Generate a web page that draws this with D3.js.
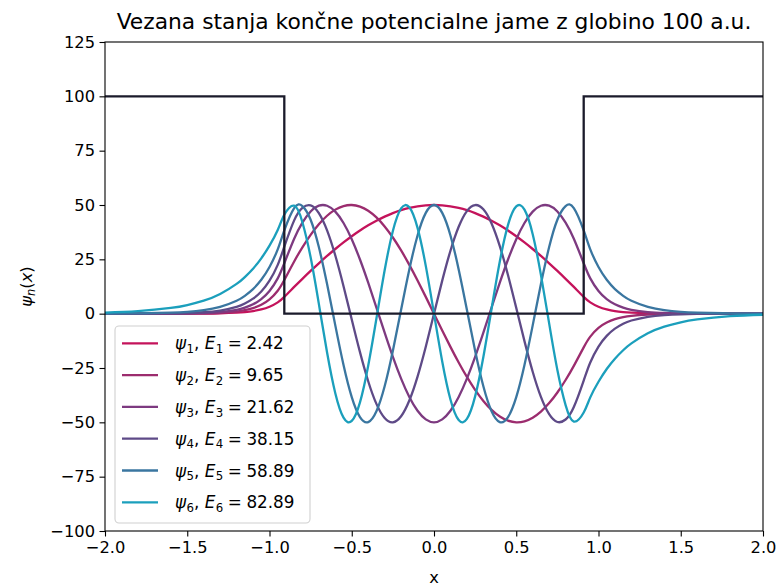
<!DOCTYPE html>
<html>
<head>
<meta charset="utf-8">
<script src="https://cdn.jsdelivr.net/npm/d3@7"></script>
<style>
  body { margin: 0; background: #fff; }
  svg { display: block; font-family: "DejaVu Sans", sans-serif; }
</style>
</head>
<body>
<svg id="chart" width="780" height="587"></svg>
<script>
// Sample positions (a.u.)
const xs = [-2.0, -1.8, -1.6, -1.5, -1.4, -1.3, -1.2, -1.15, -1.1, -1.05, -1.0, -0.95, -0.91,
  -0.85, -0.8, -0.75, -0.7, -0.65, -0.6, -0.55, -0.5, -0.45, -0.4, -0.35, -0.3, -0.25, -0.2, -0.15, -0.1, -0.05,
  0,
  0.05, 0.1, 0.15, 0.2, 0.25, 0.3, 0.35, 0.4, 0.45, 0.5, 0.55, 0.6, 0.65, 0.7, 0.75, 0.8, 0.85,
  0.91, 0.95, 1.0, 1.05, 1.1, 1.15, 1.2, 1.3, 1.4, 1.5, 1.6, 1.8, 2.0];

// Bound-state wavefunctions, scaled to amplitude 50
const psi1 = [0, 0, 0.01, 0.02, 0.06, 0.16, 0.44, 0.72, 1.18, 1.94, 3.18, 5.21, 7.75,
  12.30, 16.03, 19.66, 23.17, 26.55, 29.76, 32.79, 35.62, 38.24, 40.64, 42.77, 44.65, 46.27, 47.60, 48.64, 49.40, 49.85,
  50,
  49.85, 49.40, 48.64, 47.60, 46.27, 44.65, 42.77, 40.64, 38.24, 35.62, 32.79, 29.76, 26.55, 23.17, 19.66, 16.03, 12.30,
  7.75, 5.21, 3.18, 1.94, 1.18, 0.72, 0.44, 0.16, 0.06, 0.02, 0.01, 0, 0];

const psi2 = [0, 0, 0.02, 0.06, 0.15, 0.38, 0.98, 1.58, 2.54, 4.09, 6.57, 10.57, 15.5,
  24.02, 30.52, 36.28, 41.16, 45.06, 47.87, 49.53, 49.99, 49.25, 47.33, 44.27, 40.14, 35.04, 29.10, 22.46, 15.28, 7.73,
  0,
  -7.73, -15.28, -22.46, -29.10, -35.04, -40.14, -44.27, -47.33, -49.25, -49.99, -49.53, -47.87, -45.06, -41.16, -36.28, -30.52, -24.02,
  -15.5, -10.57, -6.57, -4.09, -2.54, -1.58, -0.98, -0.38, -0.15, -0.06, -0.02, 0, 0];

const psi3 = [0, 0.01, 0.05, 0.12, 0.30, 0.73, 1.78, 2.77, 4.30, 6.70, 10.43, 16.24, 23.2,
  34.45, 41.87, 47.04, 49.68, 49.64, 46.94, 41.71, 34.23, 24.91, 14.25, 2.83, -8.75, -19.86, -29.89, -38.32, -44.69, -48.65,
  -50,
  -48.65, -44.69, -38.32, -29.89, -19.86, -8.75, 2.83, 14.25, 24.91, 34.23, 41.71, 46.94, 49.64, 49.68, 47.04, 41.87, 34.45,
  23.2, 16.24, 10.43, 6.70, 4.30, 2.77, 1.78, 0.73, 0.30, 0.12, 0.05, 0.01, 0];

const psi4 = [0.01, 0.03, 0.14, 0.30, 0.65, 1.43, 3.14, 4.66, 6.90, 10.23, 15.16, 22.46, 30.8,
  42.94, 48.70, 49.84, 46.27, 38.32, 26.74, 12.64, -2.66, -17.71, -31.09, -41.52, -48.02, -49.98, -47.21, -39.98, -28.96, -15.20,
  0,
  15.20, 28.96, 39.98, 47.21, 49.98, 48.02, 41.52, 31.09, 17.71, 2.66, -12.64, -26.74, -38.32, -46.27, -49.84, -48.70, -42.94,
  -30.8, -22.46, -15.16, -10.23, -6.90, -4.66, -3.14, -1.43, -0.65, -0.30, -0.14, -0.03, -0.01];

const psi5 = [0.04, 0.13, 0.46, 0.87, 1.65, 3.14, 5.96, 8.21, 11.31, 15.58, 21.47, 29.59, 38.3,
  48.57, 49.48, 43.20, 30.63, 13.61, -5.39, -23.61, -38.39, -47.59, -49.87, -44.90, -33.40, -17.04, 1.80, 20.37, 35.99, 46.36,
  50,
  46.36, 35.99, 20.37, 1.80, -17.04, -33.40, -44.90, -49.87, -47.59, -38.39, -23.61, -5.39, 13.61, 30.63, 43.20, 49.48, 48.57,
  38.3, 29.59, 21.47, 15.58, 11.31, 8.21, 5.96, 3.14, 1.65, 0.87, 0.46, 0.13, 0.04];

const psi6 = [0.50, 1.14, 2.62, 3.96, 5.98, 9.05, 13.69, 16.83, 20.70, 25.46, 31.31, 38.50, 45.5,
  49.67, 42.08, 25.93, 4.49, -17.86, -36.58, -47.84, -49.36, -40.83, -23.98, -2.25, 19.94, 38.07, 48.44, 48.95, 39.49, 21.98,
  0,
  -21.98, -39.49, -48.95, -48.44, -38.07, -19.94, 2.25, 23.98, 40.83, 49.36, 47.84, 36.58, 17.86, -4.49, -25.93, -42.08, -49.67,
  -45.5, -38.50, -31.31, -25.46, -20.70, -16.83, -13.69, -9.05, -5.98, -3.96, -2.62, -1.14, -0.50];

// Energies of the bound states
const energies = [2.42, 9.65, 21.62, 38.15, 58.89, 82.89];

// Potential well, depth 100
const wellX = [-2, -0.91, -0.91, 0.91, 0.91, 2];
const wellV = [100, 100, 0, 0, 100, 100];

const xTicks = [-2.0, -1.5, -1.0, -0.5, 0.0, 0.5, 1.0, 1.5, 2.0];
const yTicks = [-100, -75, -50, -25, 0, 25, 50, 75, 100, 125];

const colors = ["#c4135b", "#9c2c6e", "#7d3a80", "#5e4a87", "#3a76a0", "#1b9fbc"];
const wellColor = "#1b1b2b";

const series = [psi1, psi2, psi3, psi4, psi5, psi6];

const svg = d3.select("#chart");
const W = 780, H = 587;
const m = { left: 105, right: 763, top: 42, bottom: 531 };
const fs = 16.3;
const lfs = 16.8;

const x = d3.scaleLinear().domain([-2, 2]).range([m.left, m.right]);
const y = d3.scaleLinear().domain([-100, 125]).range([m.bottom, m.top]);

svg.append("rect").attr("width", W).attr("height", H).attr("fill", "#fff");

svg.append("defs").append("clipPath").attr("id", "plot-clip")
  .append("rect").attr("x", m.left).attr("y", m.top)
  .attr("width", m.right - m.left).attr("height", m.bottom - m.top);

const fmtMinus = s => s.replace("-", "\u2212");

// Axes
const xAxis = d3.axisBottom(x).tickValues(xTicks).tickSize(5.5).tickPadding(4.5)
  .tickFormat(d => fmtMinus(d3.format(".1f")(d)));
const yAxis = d3.axisLeft(y).tickValues(yTicks).tickSize(5.5).tickPadding(4.5)
  .tickFormat(d => fmtMinus(d3.format("d")(d)));

const gx = svg.append("g").attr("transform", `translate(0,${m.bottom})`).call(xAxis);
const gy = svg.append("g").attr("transform", `translate(${m.left},0)`).call(yAxis);
[gx, gy].forEach(g => {
  g.select(".domain").remove();
  g.selectAll(".tick line").attr("stroke", "#000").attr("stroke-width", 1.1);
  g.selectAll(".tick text").attr("fill", "#000").attr("font-size", fs)
    .attr("font-family", "DejaVu Sans");
});

// Curves
const line = d3.line()
  .x((d, i) => x(xs[i]))
  .y(d => y(d))
  .curve(d3.curveNatural);

const plot = svg.append("g").attr("clip-path", "url(#plot-clip)");
series.forEach((s, i) => {
  plot.append("path").datum(s)
    .attr("d", line)
    .attr("fill", "none")
    .attr("stroke", colors[i])
    .attr("stroke-width", 2.3)
    .attr("stroke-linejoin", "round");
});

// Potential
const wellLine = d3.line().x((d, i) => x(wellX[i])).y(d => y(d));
plot.append("path").datum(wellV)
  .attr("d", wellLine)
  .attr("fill", "none")
  .attr("stroke", wellColor)
  .attr("stroke-width", 2.3)
  .attr("stroke-linejoin", "miter");

// Frame
svg.append("rect").attr("x", m.left).attr("y", m.top)
  .attr("width", m.right - m.left).attr("height", m.bottom - m.top)
  .attr("fill", "none").attr("stroke", "#000").attr("stroke-width", 1.1);

// Title and axis labels
svg.append("text").attr("x", (m.left + m.right) / 2).attr("y", 29)
  .attr("text-anchor", "middle").attr("font-size", 21.8).attr("fill", "#000")
  .text("Vezana stanja končne potencialne jame z globino 100 a.u.");

svg.append("text").attr("x", (m.left + m.right) / 2).attr("y", 583)
  .attr("text-anchor", "middle").attr("font-size", fs).attr("fill", "#000")
  .text("x");

const yl = svg.append("text")
  .attr("transform", `translate(32,${(m.top + m.bottom) / 2}) rotate(-90)`)
  .attr("text-anchor", "middle").attr("font-size", fs).attr("fill", "#000");
yl.append("tspan").attr("font-style", "italic").text("ψ");
yl.append("tspan").attr("font-style", "italic").attr("font-size", fs * 0.7).attr("dy", 3).text("n");
yl.append("tspan").attr("dy", -3).text("(");
yl.append("tspan").attr("font-style", "italic").text("x");
yl.append("tspan").text(")");

// Legend
const lg = svg.append("g");
lg.append("rect").attr("x", 115).attr("y", 326).attr("width", 195).attr("height", 197)
  .attr("rx", 4).attr("fill", "#fff").attr("fill-opacity", 0.8)
  .attr("stroke", "#d0d0d0").attr("stroke-width", 1.1);

energies.forEach((e, i) => {
  const cy = 343.3 + i * 31.8;
  lg.append("line").attr("x1", 122).attr("x2", 158).attr("y1", cy).attr("y2", cy)
    .attr("stroke", colors[i]).attr("stroke-width", 2.3);
  const t = lg.append("text").attr("x", 175).attr("y", cy + 6)
    .attr("font-size", lfs).attr("fill", "#000");
  const n = String(i + 1);
  t.append("tspan").attr("font-style", "italic").text("ψ");
  t.append("tspan").attr("font-size", lfs * 0.7).attr("dx", 0.5).attr("dy", 3.6).text(n);
  t.append("tspan").attr("dy", -3.6).text(", ");
  t.append("tspan").attr("font-style", "italic").text("E");
  t.append("tspan").attr("font-size", lfs * 0.7).attr("dx", 0.5).attr("dy", 3.6).text(n);
  t.append("tspan").attr("dy", -3.6).attr("dx", 4.5).text("=");
  t.append("tspan").attr("dx", 4.5).text(d3.format(".2f")(e));
});
</script>
</body>
</html>
